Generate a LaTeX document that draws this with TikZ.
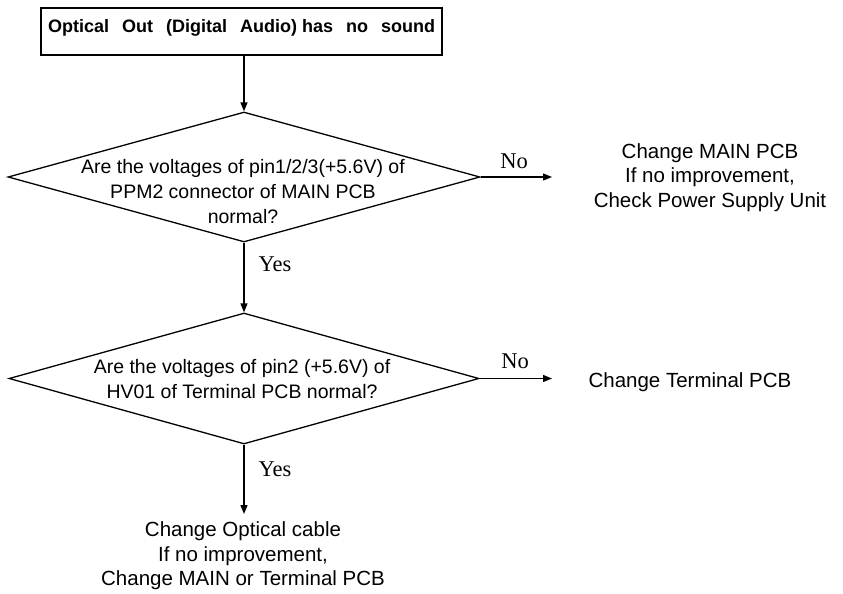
\documentclass[tikz,border=0pt]{standalone}
\usepackage{fontspec}
\setmainfont{Liberation Sans}
\newfontfamily\serifyn{Liberation Serif}
\usetikzlibrary{shapes.geometric,arrows.meta}
\tikzset{
  ln/.style={line width=1.3pt},
  arr/.style={ln,-{Triangle[length=9pt,width=7pt]}},
  dia/.style={diamond,draw,ln,inner sep=0pt,minimum width=#1},
  txt/.style={inner sep=0pt,align=center,font=\fontsize{20.5}{24.5}\selectfont},
  qtxt/.style={inner sep=0pt,align=center,font=\fontsize{19.5}{25}\selectfont},
  yn/.style={inner sep=0pt,font=\serifyn\fontsize{22.5}{24}\selectfont},
}
\newcommand\wg{\hspace{13pt}}
\begin{document}
\begin{tikzpicture}[x=1pt,y=1pt]
\useasboundingbox (0,0) rectangle (843,-594);
% title box
\node[draw,ln,inner sep=0pt,minimum width=401pt,minimum height=47pt,
      text height=10pt,text depth=7pt,font=\bfseries\fontsize{18}{20}\selectfont]
  (box) at (241.5,-31.5) {Optical\wg Out\wg (Digital\wg Audio) has\wg no\wg sound};
% decisions
\node[dia=472pt,minimum height=130pt] (d1) at (244,-177) {};
\node[qtxt] (d1t) at (243,-192) {Are the voltages of pin1/2/3(+5.6V) of\\PPM2 connector of MAIN PCB\\normal?};
\node[dia=470pt,minimum height=131pt] (d2) at (244,-378.5) {};
\node[qtxt] (d2t) at (242,-379.5) {Are the voltages of pin2 (+5.6V) of\\HV01 of Terminal PCB normal?};
% results
\node[txt] (r1) at (710,-177.5) {Change MAIN PCB\\If no improvement,\\Check Power Supply Unit};
\node[txt,anchor=base] (r2) at (690,-387) {Change Terminal PCB};
\node[txt] (r3) at (243,-556) {Change Optical cable\\If no improvement,\\Change MAIN or Terminal PCB};
% arrow ends
\coordinate (e1) at (552,-177);
\coordinate (e2) at (552,-378.5);
\coordinate (e3) at (244,-514);
% connectors
\draw[arr] (box.south -| d1.north) -- (d1.north);
\draw[arr] (d1.east) -- (e1);
\draw[arr] (d1.south) -- (d2.north);
\draw[arr] (d2.east) -- (e2);
\draw[arr] (d2.south) -- (e3);
% labels
\node[yn] (no1) at (514,-161) {No};
\node[yn] (no2) at (515,-361) {No};
\node[yn] (yes1) at (275,-264) {Yes};
\node[yn] (yes2) at (275,-469) {Yes};
\end{tikzpicture}
\end{document}
